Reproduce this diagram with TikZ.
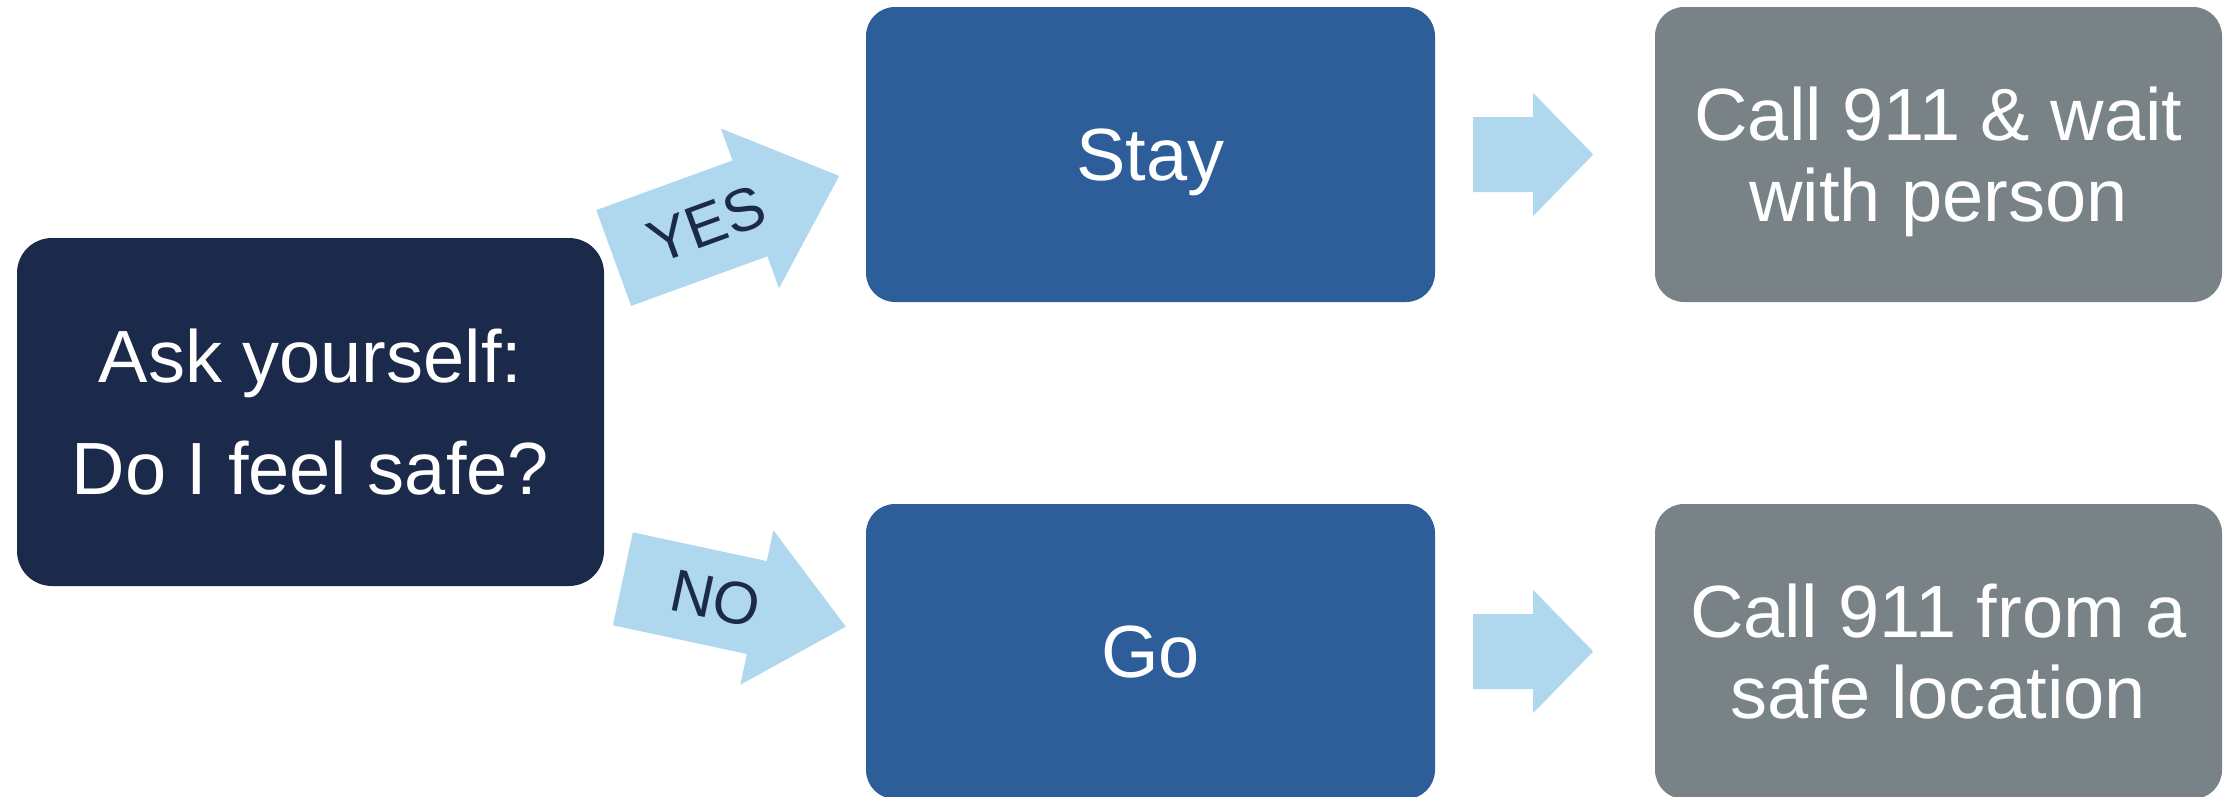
\documentclass[tikz,border=0pt]{standalone}
\usepackage{fontspec}
\setmainfont{Liberation Sans}
\usetikzlibrary{calc}
\definecolor{asknavy}{HTML}{1B2A4A}
\definecolor{stepblue}{HTML}{2D5E99}
\definecolor{callgray}{HTML}{788287}
\definecolor{arrowblue}{HTML}{AFD7EE}
\tikzset{
  box/.style={rounded corners=29pt,minimum width=569pt,minimum height=295pt,
    inner sep=0pt,text=white,align=center,text depth=0pt,
    font=\fontsize{74}{81}\selectfont},
  blockarrow/.style={fill=arrowblue},
  answer/.style={text=asknavy,inner sep=0pt,transform shape,
    font=\fontsize{60}{72}\selectfont}
}

\begin{document}
\begin{tikzpicture}[x=1pt,y=-1pt]
\useasboundingbox (0,0) rectangle (2225,796);
% boxes
\node[box,fill=asknavy,minimum width=587pt,minimum height=348pt,rounded corners=35pt,
  font=\fontsize{74}{112}\selectfont] (ask) at (310.5,412) {Ask yourself:\\Do I feel safe?};
\node[box,fill=stepblue] (stay) at (1150.5,154.5) {Stay};
\node[box,fill=stepblue] (go) at (1150.5,651.5) {Go};
\node[box,fill=callgray,minimum width=567pt] (wait) at (1938.5,154.5) {Call 911 \& wait\\with person};
\node[box,fill=callgray,minimum width=567pt] (away) at (1938.5,651.5) {Call 911 from a\\safe location};
% yes / no
\begin{scope}[shift={($(ask.east)+(9.5,-154)$)},rotate=20]
\fill[blockarrow] (0,-51) -- (145,-51) -- (145,-85) -- (240,0) -- (145,85) -- (145,51) -- (0,51) -- cycle;
\node[answer] (yes) at (99,0) {YES};
\end{scope}
\begin{scope}[shift={($(ask.east)+(18.7,166.8)$)},rotate=-12.1]
\fill[blockarrow] (0,-47.5) -- (137,-47.5) -- (137,-79) -- (228,0) -- (137,79) -- (137,47.5) -- (0,47.5) -- cycle;
\node[answer] (no) at (95,0) {NO};
\end{scope}
% to the calls
\foreach \from in {stay,go}{
  \begin{scope}[shift={($(\from.east)+(38,0)$)}]
  \fill[blockarrow] (0,-37.5) -- (60,-37.5) -- (60,-61.5) -- (120,0) -- (60,61.5) -- (60,37.5) -- (0,37.5) -- cycle;
  \end{scope}
}
\end{tikzpicture}
\end{document}
